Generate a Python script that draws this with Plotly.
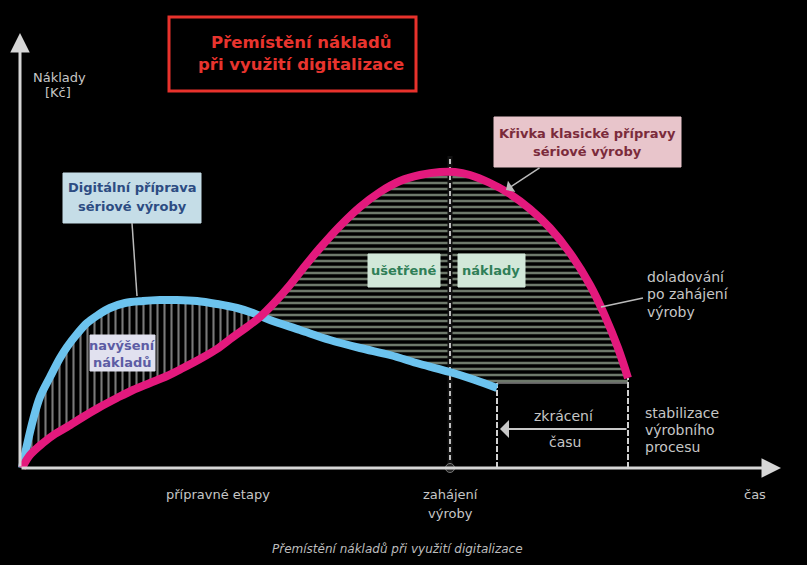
import numpy as np
import plotly.graph_objects as go

# ---------------- data (time t, cost c) ----------------
t_digital = [0, 5, 11, 18, 28, 38, 45, 55, 65, 76, 88, 103, 121, 138, 155, 175, 195, 215, 231,
             248, 278, 308, 338, 368, 398, 428, 453, 475]
c_digital = [0, 23, 48, 71, 91, 110, 121, 134, 145, 153, 160, 165, 167, 168, 168, 167, 164, 160, 155,
             148, 138, 128, 120, 113, 104, 96, 88, 80]

t_classic = [0, 8, 21, 33, 45, 61, 78, 95, 111, 128, 145, 161, 178, 195, 211, 225, 238, 253, 268,
             283, 298, 318, 338, 358, 378, 398, 418, 433, 448, 468, 488, 508, 528, 548, 568, 583, 596, 606]
c_classic = [0, 13, 25, 34, 41, 51, 61, 70, 78, 85, 92, 100, 109, 119, 131, 141, 151, 166, 183,
             202, 220, 242, 261, 276, 287, 293, 296, 296, 293, 285, 274, 259, 240, 215, 183, 152, 120, 90]

t_start_production = 428     # zahájení výroby
t_digital_end = 475          # konec digitální přípravy
t_classic_end = 606          # konec klasické přípravy
c_stable = 85                # úroveň stabilizace

# ---------------- helpers (pixel -> data for text placement) ----------------
OX, OY = 22, 468
def X(px): return px - OX
def Y(py): return OY - py

td, cd = np.array(t_digital, float), np.array(c_digital, float)
tc, cc = np.array(t_classic, float), np.array(c_classic, float)

# intersection of the two curves
grid = np.linspace(50, 400, 3501)
diff = np.interp(grid, td, cd) - np.interp(grid, tc, cc)
k = np.where(np.diff(np.sign(diff)) != 0)[0][0]
ti = grid[k]
ci = float(np.interp(ti, td, cd))

fig = go.Figure()

# region 1: increased costs (vertical hatch)
m_d = td < ti
m_c = tc < ti
px1 = list(td[m_d]) + [ti] + list(tc[m_c][::-1])
py1 = list(cd[m_d]) + [ci] + list(cc[m_c][::-1])
fig.add_trace(go.Scatter(x=px1, y=py1, mode="lines", fill="toself", line=dict(width=0),
                         fillcolor="rgba(0,0,0,0)",
                         fillpattern=dict(shape="|", fgcolor="#f4f4f4", bgcolor="black",
                                          size=7, solidity=0.3),
                         hoverinfo="skip"))

# region 2: saved costs (horizontal hatch)
m_c2 = tc > ti
m_d2 = td > ti
px2 = [ti] + list(tc[m_c2]) + [t_classic_end, t_digital_end] + list(td[m_d2][::-1])
py2 = [ci] + list(cc[m_c2]) + [c_stable, c_stable] + list(cd[m_d2][::-1])
fig.add_trace(go.Scatter(x=px2, y=py2, mode="lines", fill="toself", line=dict(width=0),
                         fillcolor="rgba(0,0,0,0)",
                         fillpattern=dict(shape="-", fgcolor="#dcf2d6", bgcolor="black",
                                          size=6, solidity=0.42),
                         hoverinfo="skip"))

# production start line
fig.add_trace(go.Scatter(x=[t_start_production, t_start_production], y=[0, Y(156)], mode="lines",
                         line=dict(color="#111111", width=5), hoverinfo="skip"))
fig.add_trace(go.Scatter(x=[t_start_production, t_start_production], y=[0, Y(156)], mode="lines",
                         line=dict(color="#bfbfbf", width=2, dash="5px,3px"), hoverinfo="skip"))

# end lines
for tx, top in [(t_digital_end, c_stable), (t_classic_end, c_stable + 5)]:
    fig.add_trace(go.Scatter(x=[tx, tx], y=[0, top], mode="lines",
                             line=dict(color="#d0d0d0", width=2, dash="6px,2px"), hoverinfo="skip"))
fig.add_trace(go.Scatter(x=[t_digital_end, t_classic_end], y=[c_stable, c_stable], mode="lines",
                         line=dict(color="#bdbdbd", width=1), hoverinfo="skip"))

# curves
fig.add_trace(go.Scatter(x=t_digital, y=c_digital, mode="lines", line=dict(color="#6cc3ee", width=8),
                         line_shape="spline", hoverinfo="skip"))
fig.add_trace(go.Scatter(x=t_classic, y=c_classic, mode="lines", line=dict(color="#e3197d", width=8),
                         line_shape="spline", hoverinfo="skip"))

# dot at production start
fig.add_trace(go.Scatter(x=[t_start_production], y=[0], mode="markers",
                         marker=dict(color="#222222", size=9, line=dict(color="#777777", width=1)),
                         hoverinfo="skip"))

shapes = []
# title box
shapes.append(dict(type="rect", x0=X(169), x1=X(416), y0=Y(17), y1=Y(91),
                   line=dict(color="#e8322c", width=3), fillcolor="rgba(0,0,0,0)"))
# label boxes
def box(x0, y0, x1, y1, fill):
    shapes.append(dict(type="rect", x0=X(x0), x1=X(x1), y0=Y(y0), y1=Y(y1),
                       line=dict(color=fill, width=1), fillcolor=fill))
box(63, 173, 201, 223, "#c5dde7")
box(494, 117, 681, 167, "#e8c5cb")
box(368, 254, 440, 287, "#d2e8d9")
box(458, 254, 525, 287, "#d2e8d9")
box(90, 335, 155, 371, "#e1e1ef")
# leader lines
shapes.append(dict(type="line", x0=X(132), y0=Y(223), x1=X(137), y1=Y(296),
                   line=dict(color="#bbbbbb", width=1.5)))
shapes.append(dict(type="line", x0=X(601), y0=Y(307), x1=X(643), y1=Y(298),
                   line=dict(color="#bbbbbb", width=1.5)))

ann = []
def txt(text, px, py, size, color, bold=False, italic=False, xanchor="center", family="DejaVu Sans"):
    t = text
    if bold:
        t = "<b>" + t + "</b>"
    if italic:
        t = "<i>" + t + "</i>"
    ann.append(dict(x=X(px), y=Y(py), text=t, showarrow=False, xanchor=xanchor, yanchor="middle",
                    font=dict(size=size, color=color, family=family)))

def arrow(x_tail, y_tail, x_head, y_head, color, width, head, size):
    ann.append(dict(x=X(x_head), y=Y(y_head), ax=X(x_tail), ay=Y(y_tail), xref="x", yref="y",
                    axref="x", ayref="y", text="", showarrow=True, arrowhead=head,
                    arrowsize=size, arrowwidth=width, arrowcolor=color))

# axes
arrow(20, 468, 20, 33, "#d6d6d6", 3, 2, 1.3)
arrow(20, 468, 781, 468, "#d6d6d6", 3, 2, 1.3)
# time shortening arrow
arrow(628, 429, 500, 429, "#c8c8c8", 2, 1, 1.5)
# classic curve leader
arrow(541, 167, 506, 190, "#bbbbbb", 1.5, 1, 1.5)

gray = "#c6c6c6"
txt("Přemístění nákladů", 301, 42, 16.5, "#e8342e", bold=True)
txt("při využití digitalizace", 301, 64, 16.5, "#e8342e", bold=True)
txt("Náklady", 59, 77, 13, gray)
txt("[Kč]", 58, 92, 13, gray)
txt("Digitální příprava", 132, 187, 13, "#2c4c82", bold=True)
txt("sériové výroby", 132, 206, 13, "#2c4c82", bold=True)
txt("Křivka klasické přípravy", 587, 133, 13, "#7b2b3b", bold=True)
txt("sériové výroby", 587, 151, 13, "#7b2b3b", bold=True)
txt("ušetřené", 404, 270, 13, "#2f7f57", bold=True)
txt("náklady", 491, 270, 13, "#2f7f57", bold=True)
txt("navýšení", 122, 345, 13, "#5c5ca4", bold=True)
txt("nákladů", 122, 362, 13, "#5c5ca4", bold=True)
txt("doladování", 645, 277, 14, gray, xanchor="left")
txt("po zahájení", 645, 294, 14, gray, xanchor="left")
txt("výroby", 645, 312, 14, gray, xanchor="left")
txt("stabilizace", 643, 413, 14, gray, xanchor="left")
txt("výrobního", 643, 430, 14, gray, xanchor="left")
txt("procesu", 643, 447, 14, gray, xanchor="left")
txt("zkrácení", 564, 416, 14, gray)
txt("času", 565, 442, 14, gray)
txt("přípravné etapy", 218, 494, 13, gray)
txt("zahájení", 450, 494, 13, gray)
txt("výroby", 450, 513, 13, gray)
txt("čas", 755, 494, 13, gray)
txt("Přemístění nákladů při využití digitalizace", 397, 549, 12, "#bdbdbd", italic=True)

fig.update_layout(
    width=807, height=565, margin=dict(l=0, r=0, t=0, b=0),
    paper_bgcolor="black", plot_bgcolor="black", showlegend=False,
    xaxis=dict(visible=False, range=[-22, 785], fixedrange=True),
    yaxis=dict(visible=False, range=[-97, 468], fixedrange=True),
    shapes=shapes, annotations=ann,
)

fig.write_html("out.html")
